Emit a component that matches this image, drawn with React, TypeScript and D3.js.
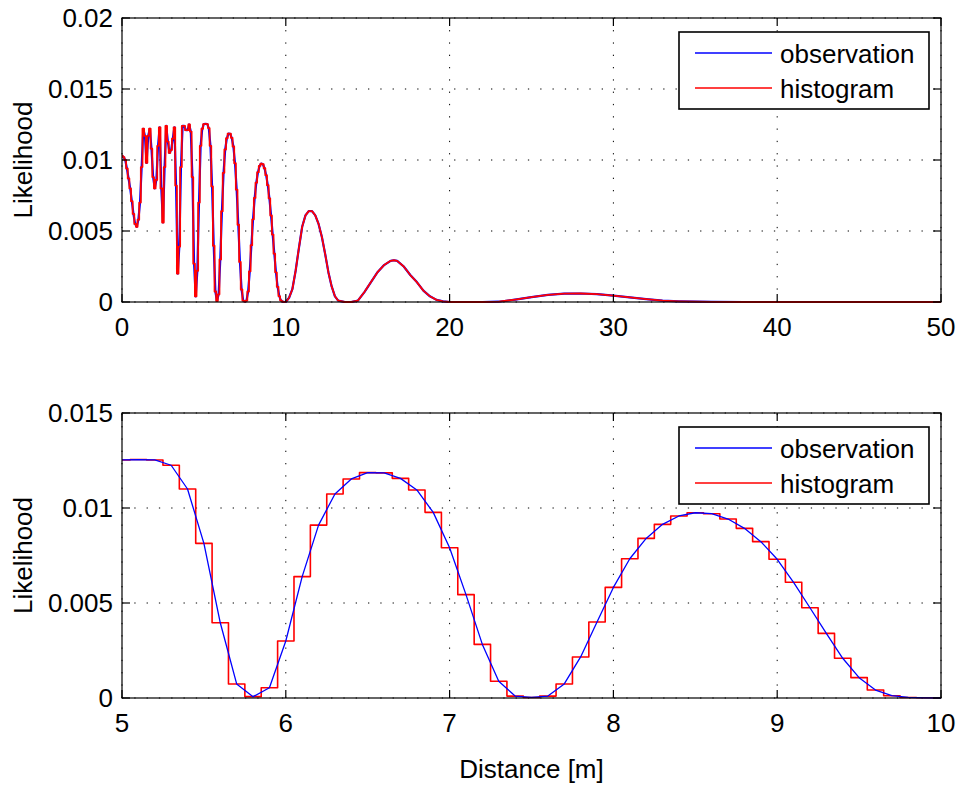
import React from "react"
import * as d3 from "d3"

// histogram bin centres, every 0.1 m from 0 to 10 m
const binCentres = d3.range(0, 101).map((i) => i / 10)
const binLikelihood = [
  // 0.0 - 4.9
  0.0103, 0.0102, 0.01, 0.0094, 0.0087, 0.008, 0.0071, 0.0062, 0.0055, 0.0053,
  0.0058, 0.007, 0.0095, 0.0122, 0.0117, 0.0098, 0.0117, 0.0122, 0.0108, 0.0088,
  0.008, 0.0086, 0.011, 0.0123, 0.008, 0.0056, 0.0095, 0.0124, 0.0113, 0.0105,
  0.0107, 0.0115, 0.0123, 0.0082, 0.002, 0.0039, 0.0095, 0.0124, 0.0124, 0.0121,
  0.0121, 0.0125, 0.012, 0.0088, 0.0027, 0.0004, 0.0022, 0.007, 0.011, 0.0122,
  // 5.0 - 10.0
  0.01253, 0.01255, 0.01253, 0.01225, 0.011, 0.00814, 0.00396, 0.00074, 0.00007, 0.00054,
  0.003, 0.00639, 0.0091, 0.01074, 0.01153, 0.01186, 0.01185, 0.01156, 0.01095, 0.00977,
  0.00791, 0.00544, 0.00282, 0.00088, 0.0001, 0.00003, 0.0001, 0.00074, 0.00216, 0.004,
  0.00582, 0.00733, 0.0084, 0.00914, 0.00958, 0.00975, 0.0097, 0.00942, 0.00893, 0.00823,
  0.0073, 0.00609, 0.00475, 0.0034, 0.00209, 0.00107, 0.00042, 0.00012, 0.00003, 0.00001,
  0.0,
]

// coarser samples beyond 10 m (only shown in the upper plot)
const tailDistance = [
  10.2, 10.4, 10.6, 10.8, 11, 11.2, 11.4, 11.6, 11.8, 12, 12.2, 12.4, 12.6, 12.8, 13, 13.2, 13.6, 14,
  14.4, 14.8, 15.2, 15.6, 16, 16.4, 16.6, 16.8, 17.2, 17.6, 18, 18.4, 18.8, 19.2, 19.6, 20, 21, 22,
  23, 24, 25, 26, 27, 28, 29, 30, 31, 32, 33, 34, 35, 36, 38, 42, 46, 50,
]
const tailLikelihood = [
  0.0003, 0.0009, 0.0022, 0.0038, 0.0053, 0.0061, 0.0064, 0.0064, 0.0061, 0.0055, 0.0046, 0.0034,
  0.0021, 0.0011, 0.0004, 0.0001, 0, 0, 0.0001, 0.0007, 0.0014, 0.0021, 0.0026, 0.0029, 0.00294,
  0.0029, 0.0025, 0.0019, 0.0014, 0.0008, 0.0004, 0.00015, 0.00004, 0, 0, 0, 0.00002, 0.00017,
  0.00034, 0.0005, 0.00059, 0.0006, 0.00055, 0.00045, 0.00032, 0.0002, 0.0001, 0.00005, 0.00002,
  0.00001, 0, 0, 0, 0,
]

const topXTicks = [0, 10, 20, 30, 40, 50]
const topYTicks = [0, 0.005, 0.01, 0.015, 0.02]
const bottomXTicks = [5, 6, 7, 8, 9, 10]
const bottomYTicks = [0, 0.005, 0.01, 0.015]
const legendLabels = ["observation", "histogram"]
const legendColors = ["#0000ff", "#ff0000"]

type Pt = [number, number]

const FONT = "'Liberation Sans', Arial, Helvetica, sans-serif"
const LEFT = 122
const RIGHT = 941

function Panel(props: {
  id: string
  top: number
  bottom: number
  xDomain: [number, number]
  yDomain: [number, number]
  xTicks: number[]
  yTicks: number[]
  obs: Pt[]
  hist: Pt[]
  histTail: Pt[]
  blueW: number
  redW: number
  blueOnTop: boolean
}) {
  const x = d3.scaleLinear().domain(props.xDomain).range([LEFT, RIGHT])
  const y = d3.scaleLinear().domain(props.yDomain).range([props.bottom, props.top])

  const line = d3
    .line<Pt>()
    .x((d) => x(d[0]))
    .y((d) => y(d[1]))
  const stepLine = d3
    .line<Pt>()
    .x((d) => x(d[0]))
    .y((d) => y(d[1]))
    .curve(d3.curveStep)

  const blue = (
    <path d={line(props.obs) || ""} fill="none" stroke="#0000ff" strokeWidth={props.blueW} strokeLinejoin="round" />
  )
  const red = (
    <g fill="none" stroke="#ff0000" strokeWidth={props.redW} strokeLinejoin="round">
      <path d={stepLine(props.hist) || ""} />
      {props.histTail.length > 0 && <path d={line(props.histTail) || ""} />}
    </g>
  )

  const tick = 8
  const legTop = props.top + 14
  const legLeft = 679
  const legW = 250
  const legH = 77

  return (
    <g>
      <defs>
        <clipPath id={props.id}>
          <rect x={LEFT} y={props.top - 2} width={RIGHT - LEFT} height={props.bottom - props.top + 3} />
        </clipPath>
      </defs>
      {/* dotted grid */}
      <g stroke="#000" strokeWidth={1} strokeDasharray="1.3 11">
        {props.xTicks.map((t) => (
          <line key={"gx" + t} x1={x(t)} x2={x(t)} y1={props.bottom} y2={props.top} />
        ))}
        {props.yTicks.map((t) => (
          <line key={"gy" + t} x1={LEFT} x2={RIGHT} y1={y(t)} y2={y(t)} />
        ))}
      </g>
      <g clipPath={`url(#${props.id})`}>
        {props.blueOnTop ? red : blue}
        {props.blueOnTop ? blue : red}
      </g>
      {/* box */}
      <rect x={LEFT} y={props.top} width={RIGHT - LEFT} height={props.bottom - props.top} fill="none" stroke="#000" strokeWidth={1.2} />
      {/* ticks */}
      <g stroke="#000" strokeWidth={1.2}>
        {props.xTicks.map((t) => (
          <g key={"tx" + t}>
            <line x1={x(t)} x2={x(t)} y1={props.bottom} y2={props.bottom - tick} />
            <line x1={x(t)} x2={x(t)} y1={props.top} y2={props.top + tick} />
          </g>
        ))}
        {props.yTicks.map((t) => (
          <g key={"ty" + t}>
            <line x1={LEFT} x2={LEFT + tick} y1={y(t)} y2={y(t)} />
            <line x1={RIGHT} x2={RIGHT - tick} y1={y(t)} y2={y(t)} />
          </g>
        ))}
      </g>
      <g fontFamily={FONT} fontSize={26} fill="#000">
        {props.xTicks.map((t) => (
          <text key={"lx" + t} x={x(t)} y={props.bottom + 34} textAnchor="middle">
            {String(t)}
          </text>
        ))}
        {props.yTicks.map((t) => (
          <text key={"ly" + t} x={113} y={y(t) + 9} textAnchor="end">
            {String(t)}
          </text>
        ))}
        <text
          transform={`translate(32,${(props.top + props.bottom) / 2}) rotate(-90)`}
          textAnchor="middle"
        >
          Likelihood
        </text>
      </g>
      {/* legend */}
      <g>
        <rect x={legLeft} y={legTop} width={legW} height={legH} fill="#fff" stroke="#000" strokeWidth={1.6} />
        {legendLabels.map((lab, i) => (
          <g key={lab}>
            <line
              x1={legLeft + 16}
              x2={legLeft + 93}
              y1={legTop + 21 + i * 35}
              y2={legTop + 21 + i * 35}
              stroke={legendColors[i]}
              strokeWidth={1.3}
            />
            <text x={legLeft + 101} y={legTop + 31 + i * 35} fontFamily={FONT} fontSize={26} fill="#000">
              {lab}
            </text>
          </g>
        ))}
      </g>
    </g>
  )
}

export default function App() {
  const bins: Pt[] = binCentres.map((d, i) => [d, binLikelihood[i]])
  const tail: Pt[] = tailDistance.map((d, i) => [d, tailLikelihood[i]])
  const full = bins.concat(tail)
  const near = bins.filter((d) => d[0] >= 5 - 1e-9)
  const topTail = [bins[bins.length - 1]].concat(tail)

  return (
    <svg width={959} height={785} style={{ position: "absolute", left: 0, top: 0, background: "#fff" }}>
      <rect width={959} height={785} fill="#fff" />
      <Panel
        id="clipTop"
        top={18}
        bottom={302}
        xDomain={[0, 50]}
        yDomain={[0, 0.02]}
        xTicks={topXTicks}
        yTicks={topYTicks}
        obs={full}
        hist={bins}
        histTail={topTail}
        blueW={2.2}
        redW={1.8}
        blueOnTop={false}
      />
      <Panel
        id="clipBottom"
        top={413}
        bottom={698}
        xDomain={[5, 10]}
        yDomain={[0, 0.015]}
        xTicks={bottomXTicks}
        yTicks={bottomYTicks}
        obs={near}
        hist={near}
        histTail={[]}
        blueW={1.3}
        redW={1.6}
        blueOnTop={true}
      />
      <text x={(LEFT + RIGHT) / 2} y={778} textAnchor="middle" fontFamily={FONT} fontSize={26} fill="#000">
        Distance [m]
      </text>
    </svg>
  )
}
